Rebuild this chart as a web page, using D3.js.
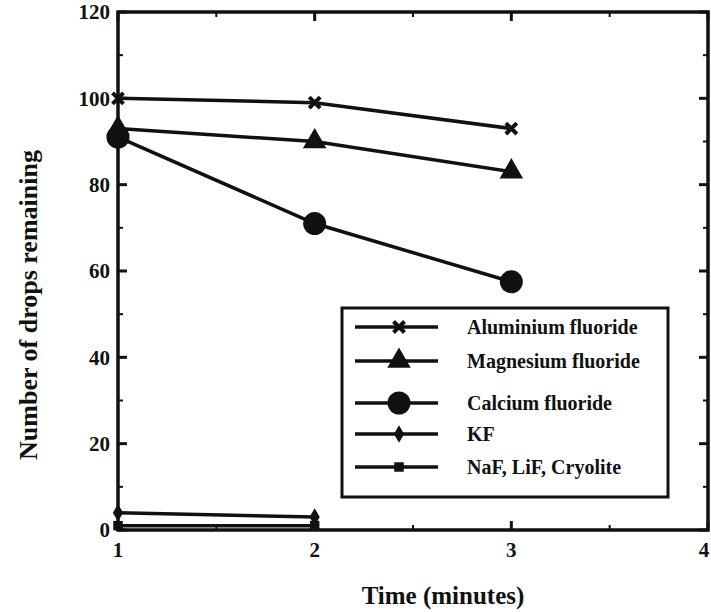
<!DOCTYPE html>
<html><head><meta charset="utf-8">
<script src="https://cdn.jsdelivr.net/npm/d3@7"></script>
<style>body{margin:0;background:#fff}svg{display:block}text{font-family:"Liberation Serif","Times New Roman",serif;font-weight:bold;fill:#111}</style>
</head><body><svg id="c" width="711" height="612"></svg>
<script>
const timeCats = [1, 2, 3];
const aluminium = [100, 99, 93];
const magnesium = [93, 90, 83];
const calcium = [91, 71, 57.5];
const kf = [4, 3];
const nafLifCryolite = [1, 1];
const xTicks = [1, 2, 3, 4];
const yTicks = [0, 20, 40, 60, 80, 100, 120];
const seriesNames = ["Aluminium fluoride", "Magnesium fluoride", "Calcium fluoride", "KF", "NaF, LiF, Cryolite"];
const seriesData = [aluminium, magnesium, calcium, kf, nafLifCryolite];
const markers = ["times", "triangle", "circle", "diamond", "square"];

const svg = d3.select("#c");
const L = 118, R = 708, T = 12, B = 530;
const x = d3.scaleLinear().domain([1, 4]).range([L, R]);
const y = d3.scaleLinear().domain([0, 120]).range([B, T]);
const ink = "#111";

svg.append("rect").attr("x", L).attr("y", T).attr("width", R - L).attr("height", B - T)
  .attr("fill", "none").attr("stroke", ink).attr("stroke-width", 3.5);

const yMinor = d3.range(10, 120, 20);
const xMinor = [1.5, 2.5, 3.5];
yTicks.forEach(v => {
  svg.append("line").attr("x1", L).attr("x2", L + 9).attr("y1", y(v)).attr("y2", y(v)).attr("stroke", ink).attr("stroke-width", 3);
  svg.append("line").attr("x1", R).attr("x2", R - 9).attr("y1", y(v)).attr("y2", y(v)).attr("stroke", ink).attr("stroke-width", 3);
});
yMinor.forEach(v => {
  svg.append("line").attr("x1", L).attr("x2", L + 5).attr("y1", y(v)).attr("y2", y(v)).attr("stroke", ink).attr("stroke-width", 2);
  svg.append("line").attr("x1", R).attr("x2", R - 5).attr("y1", y(v)).attr("y2", y(v)).attr("stroke", ink).attr("stroke-width", 2);
});
xTicks.forEach(v => {
  svg.append("line").attr("x1", x(v)).attr("x2", x(v)).attr("y1", B).attr("y2", B - 9).attr("stroke", ink).attr("stroke-width", 3);
  svg.append("line").attr("x1", x(v)).attr("x2", x(v)).attr("y1", T).attr("y2", T + 9).attr("stroke", ink).attr("stroke-width", 3);
});
xMinor.forEach(v => {
  svg.append("line").attr("x1", x(v)).attr("x2", x(v)).attr("y1", B).attr("y2", B - 5).attr("stroke", ink).attr("stroke-width", 2);
  svg.append("line").attr("x1", x(v)).attr("x2", x(v)).attr("y1", T).attr("y2", T + 5).attr("stroke", ink).attr("stroke-width", 2);
});

svg.selectAll(".yl").data(yTicks).enter().append("text")
  .attr("x", L - 8).attr("y", d => y(d)).attr("dy", "0.35em").attr("text-anchor", "end")
  .attr("font-size", 21).text(d => d);
svg.selectAll(".xl").data(xTicks).enter().append("text")
  .attr("x", d => Math.min(x(d), 704)).attr("y", 557).attr("text-anchor", "middle")
  .attr("font-size", 21).text(d => d);

svg.append("text").attr("x", 443).attr("y", 604).attr("text-anchor", "middle").attr("font-size", 25).text("Time (minutes)");
svg.append("text").attr("transform", "translate(37,305) rotate(-90)").attr("text-anchor", "middle").attr("font-size", 26).text("Number of drops remaining");

function drawMarker(g, type, cx, cy) {
  if (type === "times") {
    g.append("path").attr("d", d3.symbol(d3.symbolTimes, 80)()).attr("transform", `translate(${cx},${cy})`)
      .attr("stroke", ink).attr("stroke-width", 4).attr("fill", "none");
  } else if (type === "triangle") {
    g.append("path").attr("d", d3.symbol(d3.symbolTriangle, 240)()).attr("transform", `translate(${cx},${cy})`).attr("fill", ink);
  } else if (type === "circle") {
    g.append("circle").attr("cx", cx).attr("cy", cy).attr("r", 11.5).attr("fill", ink);
  } else if (type === "diamond") {
    g.append("path").attr("d", d3.symbol(d3.symbolDiamond, 90)()).attr("transform", `translate(${cx},${cy})`).attr("fill", ink);
  } else {
    g.append("path").attr("d", d3.symbol(d3.symbolSquare, 90)()).attr("transform", `translate(${cx},${cy})`).attr("fill", ink);
  }
}

const line = d3.line().x((d, i) => x(timeCats[i])).y(d => y(d));
seriesData.forEach((s, k) => {
  const g = svg.append("g");
  g.append("path").datum(s).attr("d", line).attr("fill", "none").attr("stroke", ink).attr("stroke-width", 3.5);
  s.forEach((v, i) => drawMarker(g, markers[k], x(timeCats[i]), y(v)));
});

const lg = svg.append("g");
lg.append("rect").attr("x", 342).attr("y", 308).attr("width", 326).attr("height", 189)
  .attr("fill", "#fff").attr("stroke", ink).attr("stroke-width", 3);
const rowY = [327, 361, 403, 434, 467];
seriesNames.forEach((n, k) => {
  lg.append("line").attr("x1", 355).attr("x2", 438).attr("y1", rowY[k]).attr("y2", rowY[k]).attr("stroke", ink).attr("stroke-width", 3.5);
  drawMarker(lg, markers[k], 399, rowY[k]);
  lg.append("text").attr("x", 467).attr("y", rowY[k]).attr("dy", "0.35em").attr("font-size", 20).text(n);
});
</script></body></html>
